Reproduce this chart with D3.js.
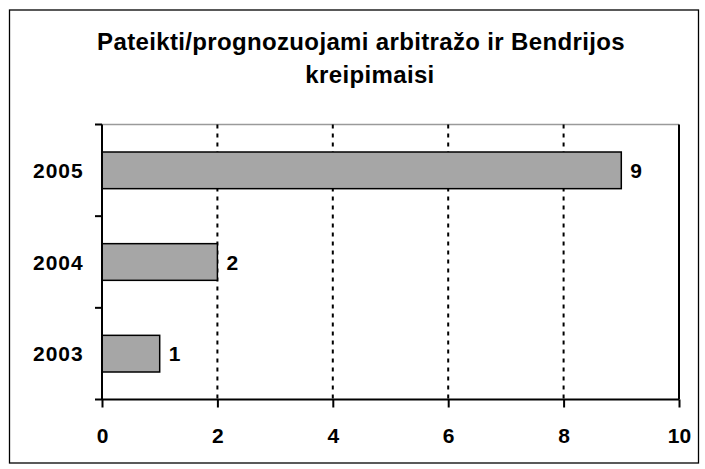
<!DOCTYPE html>
<html>
<head>
<meta charset="utf-8">
<script src="https://cdn.jsdelivr.net/npm/d3@7"></script>
<style>
  body { margin: 0; background: #fff; }
  text { font-family: Arial, "Liberation Sans", sans-serif; font-weight: bold; fill: #000; }
</style>
</head>
<body>
<div id="chart"></div>
<script>
// data
var years = ["2005", "2004", "2003"];
var counts = [9, 2, 1];
var xTicks = [0, 2, 4, 6, 8, 10];
var titleLines = ["Pateikti/prognozuojami arbitražo ir Bendrijos", "kreipimaisi"];

var W = 705, H = 469;
var margin = {top: 124.5, left: 102},
    width = 679 - margin.left,
    height = 399.5 - margin.top;

var svg = d3.select("#chart")
  .append("svg")
  .attr("width", W)
  .attr("height", H);

// outer frame
svg.append("rect")
  .attr("x", 9.5).attr("y", 10)
  .attr("width", 689).attr("height", 453)
  .attr("fill", "#fff")
  .attr("stroke", "#000")
  .attr("stroke-width", 1.3);

// title (excel leaves a trailing space on the first line, so it sits a bit left)
svg.append("text")
  .attr("text-anchor", "middle")
  .style("font-size", "24px")
  .style("letter-spacing", "0.35px")
  .selectAll("tspan")
  .data(titleLines)
  .enter().append("tspan")
  .attr("x", function(d, i) { return i == 0 ? 361 : 370; })
  .attr("y", function(d, i) { return 50 + i * 33; })
  .text(function(d) { return d; });

var g = svg.append("g")
  .attr("transform", "translate(" + margin.left + "," + margin.top + ")");

var x = d3.scaleLinear().domain([0, 10]).range([0, width]);
var y = d3.scaleBand().domain(years).range([0, height]).paddingInner(0.6).paddingOuter(0.3);
var yb = d3.scaleBand().domain(years).range([0, height]);

// plot top border
g.append("line")
  .attr("x1", 0).attr("x2", width)
  .attr("y1", 0).attr("y2", 0)
  .attr("stroke", "#9a9a9a").attr("stroke-width", 1.3);

// dashed gridlines
g.selectAll(".grid")
  .data(xTicks.filter(function(d) { return d > 0 && d < 10; }))
  .enter().append("line")
  .attr("x1", function(d) { return x(d); })
  .attr("x2", function(d) { return x(d); })
  .attr("y1", 0).attr("y2", height)
  .attr("stroke", "#000")
  .attr("stroke-width", 2)
  .attr("stroke-dasharray", "4,5");

// right border (solid at 10)
g.append("line")
  .attr("x1", x(10)).attr("x2", x(10))
  .attr("y1", 0).attr("y2", height)
  .attr("stroke", "#000").attr("stroke-width", 2);

// bars
g.selectAll(".bar")
  .data(years)
  .enter().append("rect")
  .attr("x", x(0))
  .attr("y", function(d) { return y(d); })
  .attr("width", function(d, i) { return x(counts[i]) - x(0); })
  .attr("height", y.bandwidth())
  .attr("fill", "#a6a6a6")
  .attr("stroke", "#000")
  .attr("stroke-width", 1.5);

// value labels
g.selectAll(".val")
  .data(years)
  .enter().append("text")
  .attr("x", function(d, i) { return x(counts[i]) + 9; })
  .attr("y", function(d) { return y(d) + y.bandwidth() / 2; })
  .attr("dy", "0.36em")
  .style("font-size", "21px")
  .text(function(d, i) { return counts[i]; });

// x axis
var xAxis = g.append("g")
  .attr("transform", "translate(0," + height + ")")
  .call(d3.axisBottom(x).tickValues(xTicks).tickSize(8));
xAxis.select(".domain").attr("stroke-width", 2).attr("d", "M0,0H" + width);
xAxis.selectAll(".tick line").attr("stroke-width", 2);
xAxis.selectAll("text")
  .attr("y", 43.5).attr("dy", null)
  .style("font-size", "21px")
  .style("font-family", "Arial, 'Liberation Sans', sans-serif")
  .style("font-weight", "bold");

// y axis: ticks on category boundaries, labels centred in bands
var yAxis = g.append("g");
yAxis.append("line")
  .attr("x1", 0).attr("x2", 0)
  .attr("y1", 0).attr("y2", height)
  .attr("stroke", "#000").attr("stroke-width", 2);
yAxis.selectAll(".ytick")
  .data(d3.range(years.length + 1))
  .enter().append("line")
  .attr("x1", -7).attr("x2", 0)
  .attr("y1", function(i) { return i * yb.step(); })
  .attr("y2", function(i) { return i * yb.step(); })
  .attr("stroke", "#000").attr("stroke-width", 2);
yAxis.selectAll(".ylab")
  .data(years)
  .enter().append("text")
  .attr("x", -18.3)
  .attr("y", function(d) { return yb(d) + yb.bandwidth() / 2; })
  .attr("dy", "0.36em")
  .attr("text-anchor", "end")
  .style("font-size", "21px")
  .style("letter-spacing", "1px")
  .text(function(d) { return d; });
</script>
</body>
</html>
